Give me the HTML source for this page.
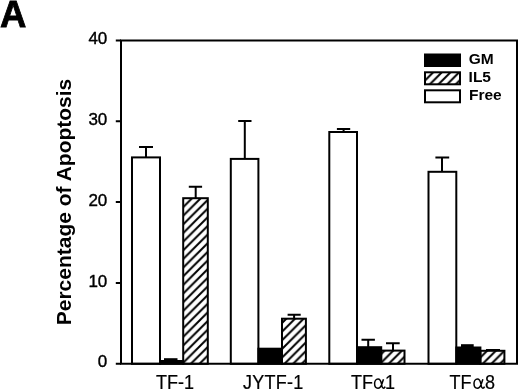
<!DOCTYPE html>
<html><head><meta charset="utf-8"><style>
html,body{margin:0;padding:0;background:#fff;width:520px;height:390px;overflow:hidden}
svg{display:block;filter:grayscale(1)}
text{font-family:"Liberation Sans",sans-serif;fill:#000}
</style></head><body>
<svg width="520" height="390" viewBox="0 0 520 390">
<defs>
<pattern id="h1" patternUnits="userSpaceOnUse" width="8.65" height="8.65" patternTransform="translate(1.05,0)"><path d="M-2,2 L2,-2 M0,8.65 L8.65,0 M6.65,10.65 L10.65,6.65" stroke="#000" stroke-width="2" fill="none"/></pattern>
<pattern id="h2" patternUnits="userSpaceOnUse" width="8.65" height="8.65" patternTransform="translate(-0.45,0)"><path d="M-2,2 L2,-2 M0,8.65 L8.65,0 M6.65,10.65 L10.65,6.65" stroke="#000" stroke-width="2" fill="none"/></pattern>
<pattern id="h3" patternUnits="userSpaceOnUse" width="8.65" height="8.65" patternTransform="translate(0.0,0)"><path d="M-2,2 L2,-2 M0,8.65 L8.65,0 M6.65,10.65 L10.65,6.65" stroke="#000" stroke-width="2" fill="none"/></pattern>
<pattern id="h4" patternUnits="userSpaceOnUse" width="8.65" height="8.65" patternTransform="translate(-1.15,0)"><path d="M-2,2 L2,-2 M0,8.65 L8.65,0 M6.65,10.65 L10.65,6.65" stroke="#000" stroke-width="2" fill="none"/></pattern>
<pattern id="hl" patternUnits="userSpaceOnUse" width="8.65" height="8.65" patternTransform="translate(3.8,0)"><path d="M-2,2 L2,-2 M0,8.65 L8.65,0 M6.65,10.65 L10.65,6.65" stroke="#000" stroke-width="2" fill="none"/></pattern>
</defs>
<rect width="520" height="390" fill="#fff"/>
<!-- panel label -->
<text x="0" y="26.6" font-size="36.5" font-weight="700" stroke="#000" stroke-width="0.8">A</text>
<!-- y title -->
<text transform="translate(70.8,202) rotate(-90)" text-anchor="middle" font-size="21" font-weight="700">Percentage of Apoptosis</text>
<!-- y tick labels -->
<g font-size="17" text-anchor="end" stroke="#000" stroke-width="0.4">
<text x="107.3" y="44">40</text>
<text x="107.3" y="124.7">30</text>
<text x="107.3" y="205.8">20</text>
<text x="107.3" y="286.6">10</text>
<text x="107.3" y="367.3">0</text>
</g>
<!-- x labels -->
<g font-size="18" stroke="#000" stroke-width="0.2" transform="translate(0,388.8) scale(1,1.12) translate(0,-388.8)">
<text x="156" y="388.8">TF-1</text>
<text x="243" y="388.8" letter-spacing="0.25">JYTF-1</text>
<text x="351" y="388.8">TF</text><text x="385" y="388.8">1</text>
<text x="449.5" y="388.8">TF</text><text x="485" y="388.8">8</text>
</g>
<path d="M477.4,378.9 C475.3,378.9 474,381.2 474,383.6 C474,386.3 475.3,388.3 477.3,388.3 C479.3,388.3 480.6,386.2 481.4,383.8 C481.9,382.2 482.4,380.6 482.9,379.2 M477.4,378.9 C479.4,378.9 480.4,381 480.9,384 C481.3,386.8 481.9,388.2 482.9,388.2 C483.6,388.2 484.2,387.5 484.6,386.6" stroke="#000" stroke-width="1.5" fill="none"/>
<path transform="translate(-99.4,0)" d="M477.4,378.9 C475.3,378.9 474,381.2 474,383.6 C474,386.3 475.3,388.3 477.3,388.3 C479.3,388.3 480.6,386.2 481.4,383.8 C481.9,382.2 482.4,380.6 482.9,379.2 M477.4,378.9 C479.4,378.9 480.4,381 480.9,384 C481.3,386.8 481.9,388.2 482.9,388.2 C483.6,388.2 484.2,387.5 484.6,386.6" stroke="#000" stroke-width="1.5" fill="none"/>
<text x="374" y="388.8" font-size="18" style="fill:none">α</text><text x="473.5" y="388.8" font-size="18" style="fill:none">α</text>
<!-- bars -->
<g stroke="#000" stroke-width="2" fill="none">
<!-- TF-1 -->
<path d="M146,157.4 V147.1 M139,147.1 H153"/>
<rect x="132" y="157.4" width="28" height="206.4" fill="#fff"/>
<rect x="164" y="358.2" width="13.5" height="3" fill="#000" stroke="none"/>
<rect x="160" y="361" width="23.2" height="2.8" fill="#000"/>
<path d="M195.7,198.2 V186.7 M188.8,186.7 H202.1"/>
<rect x="183.2" y="198.2" width="24.6" height="165.6" fill="url(#h1)"/>
<!-- JYTF-1 -->
<path d="M244.8,158.9 V121.1 M238.2,121.1 H251.5"/>
<rect x="230.8" y="158.9" width="27.6" height="204.9" fill="#fff"/>
<rect x="258.4" y="348.7" width="23.6" height="15.1" fill="#000"/>
<path d="M294.1,318.7 V314.7 M287.6,314.7 H300.7"/>
<rect x="282" y="318.7" width="23.9" height="45.1" fill="url(#h2)"/>
<!-- TFa1 -->
<path d="M343.6,132 V129 M336.9,129 H350.2"/>
<rect x="329.3" y="132" width="27.7" height="231.8" fill="#fff"/>
<path d="M368.2,347 V339.8 M361.5,339.8 H374.9"/>
<rect x="357" y="347.2" width="24.2" height="16.6" fill="#000"/>
<path d="M393,350.6 V343.2 M386,343.2 H399.7"/>
<rect x="381.2" y="350.6" width="23.3" height="13.2" fill="url(#h3)"/>
<!-- TFa8 -->
<path d="M442,171.8 V157.6 M435.4,157.6 H449.2"/>
<rect x="428.5" y="171.8" width="27.8" height="192" fill="#fff"/>
<rect x="461" y="344.2" width="12.7" height="3.5" fill="#000" stroke="none"/>
<rect x="456.3" y="347.5" width="24.1" height="16.3" fill="#000"/>
<path d="M493,350.8 V349.9 M486,349.9 H500"/>
<rect x="480.4" y="350.8" width="24" height="13" fill="url(#h4)"/>
</g>
<!-- frame & ticks -->
<g stroke="#000" stroke-width="2" fill="none">
<path d="M121,40.5 H517 V363.8 H121 Z"/>
<path d="M115.8,40.5 H121 M115.8,121.3 H121 M115.8,202.1 H121 M115.8,283 H121 M115.8,363.8 H121"/>
</g>
<!-- legend -->
<rect x="424.5" y="54" width="36" height="12.5" fill="#000" stroke="#000" stroke-width="1"/>
<rect x="425" y="72.3" width="35" height="12" fill="url(#hl)" stroke="#000" stroke-width="2"/>
<rect x="425" y="90.3" width="35" height="12" fill="#fff" stroke="#000" stroke-width="2"/>
<g font-size="15.5" font-weight="700">
<text x="468.7" y="64">GM</text>
<text x="468.6" y="81.5">IL5</text>
<text x="469" y="99.6">Free</text>
</g>
</svg>
</body></html>
